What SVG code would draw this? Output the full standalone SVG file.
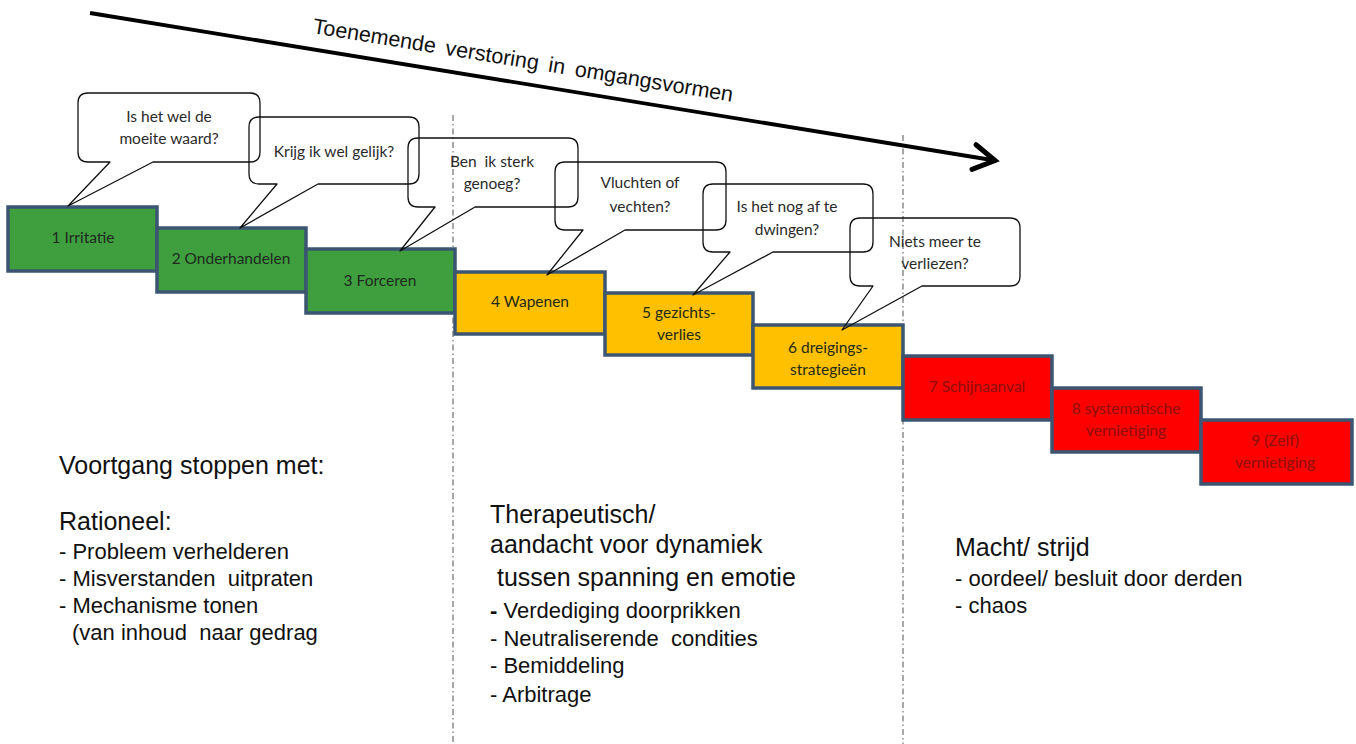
<svg xmlns="http://www.w3.org/2000/svg" width="1356" height="744" viewBox="0 0 1356 744">
<style>
.box{stroke:#3b5573;stroke-width:3.5}
.g{fill:#3f9f3f}
.o{fill:#ffc000}
.r{fill:#ff0000}
.bt{font-family:Lato,"Open Sans",sans-serif;font-size:15.5px;fill:#1e2a1e;text-anchor:middle}
.rt{fill:#8a0f0f}
.co{fill:none;stroke:#111;stroke-width:1.3;stroke-linejoin:round}
.ct{font-family:Lato,"Open Sans",sans-serif;font-size:15.5px;fill:#2a2a2a;text-anchor:middle}
.div{stroke:#7a7a7a;stroke-width:1.3;stroke-dasharray:6 3 1.5 3;fill:none}
.h{font-family:"Liberation Sans",Arial,sans-serif;font-size:25px;fill:#111}
.l{font-family:"Liberation Sans",Arial,sans-serif;font-size:22px;fill:#111}
</style>
<defs>
<marker id="chev" markerUnits="userSpaceOnUse" markerWidth="30" markerHeight="30" refX="0" refY="0" viewBox="-20 -12 24 24" orient="auto" overflow="visible">
<path d="M-17,-10 L0,0 L-17,10" fill="none" stroke="#000" stroke-width="4" stroke-linecap="round" stroke-linejoin="miter"/>
</marker>
</defs>
<rect width="1356" height="744" fill="#fff"/>
<g id="dividers">
<line class="div" x1="453" y1="115" x2="453" y2="744"/>
<line class="div" x1="903" y1="135" x2="903" y2="744"/>
</g>
<g id="connectors">
<line x1="90" y1="13" x2="995" y2="160.5" stroke="#000" stroke-width="3.8" marker-end="url(#chev)"/>
</g>
<text id="arrow-label" x="312" y="33" transform="rotate(9.3 312 33)" font-family="Liberation Sans, Arial, sans-serif" font-size="21.5" word-spacing="4" fill="#111">Toenemende verstoring in omgangsvormen</text>
<g id="box1"><rect class="box g" x="8" y="207" width="149" height="64"/><text class="bt" x="83" y="243">1 Irritatie</text></g>
<g id="box2"><rect class="box g" x="157" y="228" width="149" height="64"/><text class="bt" x="231" y="264">2 Onderhandelen</text></g>
<g id="box3"><rect class="box g" x="306" y="249" width="149" height="64"/><text class="bt" x="380" y="286">3 Forceren</text></g>
<g id="box4"><rect class="box o" x="455" y="272" width="150" height="62"/><text class="bt" x="530" y="307">4 Wapenen</text></g>
<g id="box5"><rect class="box o" x="605" y="293" width="148" height="62"/><text class="bt" x="679" y="318">5 gezichts-</text><text class="bt" x="679" y="340">verlies</text></g>
<g id="box6"><rect class="box o" x="753" y="325" width="150" height="63"/><text class="bt" x="828" y="353">6 dreigings-</text><text class="bt" x="828" y="375">strategieën</text></g>
<g id="box7"><rect class="box r" x="903" y="356" width="149" height="64"/><text class="bt rt" x="977" y="392">7 Schijnaanval</text></g>
<g id="box8"><rect class="box r" x="1052" y="388" width="149" height="64"/><text class="bt rt" x="1126" y="414">8 systematische</text><text class="bt rt" x="1126" y="436">vernietiging</text></g>
<g id="box9"><rect class="box r" x="1201" y="420" width="151" height="64"/><text class="bt rt" x="1275" y="446">9 (Zelf)</text><text class="bt rt" x="1275" y="468">vernietiging</text></g>
<g id="callout1"><path class="co" d="M88,93 H250 Q260,93 260,103 V152 Q260,162 250,162 H153 L68,206 L110,162 H88 Q78,162 78,152 V103 Q78,93 88,93 Z"/><text class="ct" x="169" y="122">Is het wel de</text><text class="ct" x="169" y="144">moeite waard?</text></g>
<g id="callout2"><path class="co" d="M259,117 H409 Q419,117 419,127 V174 Q419,184 409,184 H318 L240,228 L277,184 H259 Q249,184 249,174 V127 Q249,117 259,117 Z"/><text class="ct" x="334" y="157">Krijg ik wel gelijk?</text></g>
<g id="callout3"><path class="co" d="M418,138 H568 Q578,138 578,148 V197 Q578,207 568,207 H475 L400,251 L435,207 H418 Q408,207 408,197 V148 Q408,138 418,138 Z"/><text class="ct" x="492" y="167">Ben&#160; ik sterk</text><text class="ct" x="492" y="189">genoeg?</text></g>
<g id="callout4"><path class="co" d="M565,162 H716 Q726,162 726,172 V220 Q726,230 716,230 H625 L547,275 L583,230 H565 Q555,230 555,220 V172 Q555,162 565,162 Z"/><text class="ct" x="640" y="188">Vluchten of</text><text class="ct" x="640" y="212">vechten?</text></g>
<g id="callout5"><path class="co" d="M713,184 H863 Q873,184 873,194 V242 Q873,252 863,252 H773 L693,295 L730,252 H713 Q703,252 703,242 V194 Q703,184 713,184 Z"/><text class="ct" x="787" y="212">Is het nog af te</text><text class="ct" x="787" y="235">dwingen?</text></g>
<g id="callout6"><path class="co" d="M860,218 H1010 Q1020,218 1020,228 V276 Q1020,286 1010,286 H922 L842,330 L873,286 H860 Q850,286 850,276 V228 Q850,218 860,218 Z"/><text class="ct" x="935" y="247">Niets meer te</text><text class="ct" x="935" y="269">verliezen?</text></g>
<g id="text-left">
<text class="h" x="59" y="474">Voortgang stoppen met:</text>
<text class="h" x="59" y="530">Rationeel:</text>
<text class="l" x="59" y="559">- Probleem verhelderen</text>
<text class="l" x="59" y="586">- Misverstanden&#160; uitpraten</text>
<text class="l" x="59" y="613">- Mechanisme tonen</text>
<text class="l" x="72" y="640">(van inhoud&#160; naar gedrag</text>
</g>
<g id="text-middle">
<text class="h" x="490" y="523" font-size="26">Therapeutisch/</text>
<text class="h" x="490" y="553" font-size="26">aandacht voor dynamiek</text>
<text class="h" x="497" y="586" font-size="26">tussen spanning en emotie</text>
<text class="l" x="490" y="618"><tspan font-weight="bold">-</tspan> Verdediging doorprikken</text>
<text class="l" x="490" y="646">- Neutraliserende&#160; condities</text>
<text class="l" x="490" y="673">- Bemiddeling</text>
<text class="l" x="490" y="702">- Arbitrage</text>
</g>
<g id="text-right">
<text class="h" x="955" y="556" font-size="24">Macht/ strijd</text>
<text class="l" x="955" y="586">- oordeel/ besluit door derden</text>
<text class="l" x="955" y="613">- chaos</text>
</g>
</svg>
